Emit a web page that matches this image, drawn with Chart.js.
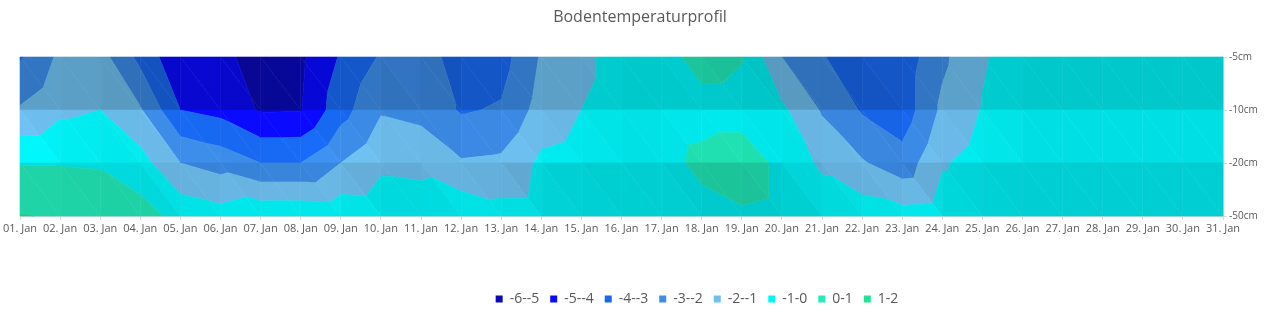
<!DOCTYPE html>
<html>
<head>
<meta charset="utf-8">
<script src="https://cdn.jsdelivr.net/npm/chart.js@4.4.0/dist/chart.umd.min.js"></script>
<style>
  html, body { margin: 0; padding: 0; background: #fff; }
  #wrap { width: 1280px; height: 316px; }
</style>
</head>
<body>
<div id="wrap"><canvas id="chart"></canvas></div>
<script>
const days = ["01. Jan", "02. Jan", "03. Jan", "04. Jan", "05. Jan", "06. Jan", "07. Jan", "08. Jan",
  "09. Jan", "10. Jan", "11. Jan", "12. Jan", "13. Jan", "14. Jan", "15. Jan", "16. Jan", "17. Jan",
  "18. Jan", "19. Jan", "20. Jan", "21. Jan", "22. Jan", "23. Jan", "24. Jan", "25. Jan", "26. Jan",
  "27. Jan", "28. Jan", "29. Jan", "30. Jan", "31. Jan"];
const depths = ["-5cm", "-10cm", "-20cm", "-50cm"];

// soil temperature per day, one array per depth
const t5 = [-3.1, -1.8, -1.6, -3.3, -4.8, -4.7, -5.5, -5.2, -3.9, -2.9, -2.4, -3.6, -3.4, -1.9, -1.3, -0.5,
  -0.3, 0.3, 0.05, -2.0, -2.9, -3.9, -3.6, -2.2, -1.1, -0.5, -0.5, -0.5, -0.5, -0.5, -0.5];
const t10 = [-1.9, -1.2, -1.0, -1.9, -4.0, -4.3, -5.1, -5.05, -3.4, -2.1, -2.3, -3.1, -2.9, -1.6, -1.0, -0.5,
  -0.4, -0.3, -0.3, -0.8, -2.1, -3.1, -3.6, -1.8, -0.95, -0.4, -0.4, -0.4, -0.4, -0.4, -0.4];
const t20 = [-0.05, -0.05, -0.1, -0.6, -2.0, -2.4, -3.0, -3.0, -2.0, -1.2, -1.3, -1.9, -1.8, -0.8, -0.6, -0.5,
  -0.3, 0.2, 0.4, -0.2, -1.2, -1.9, -2.6, -1.1, -0.6, -0.4, -0.4, -0.4, -0.4, -0.4, -0.4];
const t50 = [1.05, 0.9, 0.7, 0.4, -0.3, -0.6, -0.2, -0.2, -0.3, -0.4, -0.4, -0.2, -0.6, -0.6, -0.6, -0.6,
  -0.5, -0.3, -0.1, -0.2, -0.3, -0.4, -0.6, -0.5, -0.4, -0.5, -0.5, -0.5, -0.5, -0.5, -0.5];

const bandLabels = ["-6--5", "-5--4", "-4--3", "-3--2", "-2--1", "-1-0", "0-1", "1-2"];
const bandLow = [-6, -5, -4, -3, -2, -1, 0, 1];
const bandColors = ["#0a0ab8", "#0a0aff", "#1868f0", "#3c8ce8", "#6ec0f0", "#00f4f8", "#22ecba", "#22e294"];

const rowShade = [0.82, 0.92, 0.85];

function hexRgb(h) {
  return [parseInt(h.slice(1, 3), 16), parseInt(h.slice(3, 5), 16), parseInt(h.slice(5, 7), 16)];
}

// keep the part of a polygon where v >= lvl (above) or v <= lvl
function clip(poly, lvl, above) {
  const out = [];
  for (let k = 0; k < poly.length; k++) {
    const a = poly[k], b = poly[(k + 1) % poly.length];
    const ina = above ? a.v >= lvl : a.v <= lvl;
    const inb = above ? b.v >= lvl : b.v <= lvl;
    if (ina) out.push(a);
    if (ina !== inb) {
      const t = (lvl - a.v) / (b.v - a.v);
      out.push({x: a.x + (b.x - a.x) * t, y: a.y + (b.y - a.y) * t, v: lvl});
    }
  }
  return out;
}

function drawTri(ctx, tri, shade) {
  for (let k = 0; k < bandLow.length; k++) {
    const lo = k === 0 ? -Infinity : bandLow[k];
    const hi = k === bandLow.length - 1 ? Infinity : bandLow[k] + 1;
    let poly = clip(tri, lo, true);
    if (poly.length < 3) continue;
    poly = clip(poly, hi, false);
    if (poly.length < 3) continue;
    const c = hexRgb(bandColors[k]).map(n => Math.max(0, Math.min(255, Math.round(n * shade))));
    const col = `rgb(${c[0]},${c[1]},${c[2]})`;
    ctx.beginPath();
    ctx.moveTo(poly[0].x, poly[0].y);
    for (let m = 1; m < poly.length; m++) ctx.lineTo(poly[m].x, poly[m].y);
    ctx.closePath();
    ctx.fillStyle = col;
    ctx.strokeStyle = col;
    ctx.fill();
    ctx.stroke();
  }
}

const clamp = (v, a, b) => Math.max(a, Math.min(b, v));

// rough stand-in for Excel's lighting of the surface facets
function facetShade(j, gx, gy) {
  return rowShade[j] + (j > 0 ? 0.05 * clamp(gy, -1, 2) : 0) + 0.02 * clamp(gx, -1, 1);
}

const contourPlugin = {
  id: 'contour',
  beforeDatasetsDraw(chart) {
    const {ctx, scales: {x, y}} = chart;
    const grid = [t5, t10, t20, t50];
    const p = (i, j) => ({x: x.getPixelForValue(i), y: y.getPixelForValue(j), v: grid[j][i]});
    ctx.save();
    ctx.lineWidth = 0.6;
    ctx.lineJoin = 'round';
    for (let j = 0; j < grid.length - 1; j++) {
      for (let i = 0; i < days.length - 1; i++) {
        const tl = p(i, j), tr = p(i + 1, j), bl = p(i, j + 1), br = p(i + 1, j + 1);
        drawTri(ctx, [tl, tr, br], facetShade(j, tr.v - tl.v, br.v - tr.v));
        drawTri(ctx, [tl, br, bl], facetShade(j, br.v - bl.v, bl.v - tl.v));
      }
    }
    ctx.restore();
  },
  afterLayout(chart) {
    // Excel puts the legend a bit right of centre
    if (chart.legend) {
      chart.legend.left += 57;
      chart.legend.right += 57;
    }
  }
};

const axisGrid = {display: true, drawOnChartArea: false, drawTicks: true, tickLength: 4, color: '#d9d9d9'};

new Chart(document.getElementById('chart'), {
  type: 'scatter',
  data: {
    labels: days,
    datasets: bandLabels.map((lab, k) => ({
      label: lab,
      data: [],
      backgroundColor: bandColors[k],
      borderColor: bandColors[k],
      borderWidth: 0
    }))
  },
  options: {
    responsive: true,
    maintainAspectRatio: false,
    animation: false,
    layout: {padding: 0},
    scales: {
      x: {
        type: 'category',
        labels: days,
        offset: false,
        grid: axisGrid,
        border: {display: true, color: '#d9d9d9'},
        ticks: {autoSkip: false, maxRotation: 0, padding: 2, color: '#595959',
          font: {family: 'Open Sans', size: 11}},
        afterFit(scale) {
          scale.height = 65;
          scale.paddingLeft = 20;
          scale.paddingRight = 0;
        }
      },
      y: {
        type: 'category',
        labels: depths,
        position: 'right',
        offset: false,
        grid: axisGrid,
        border: {display: true, color: '#d9d9d9'},
        ticks: {padding: 2, color: '#595959', font: {family: 'Open Sans', size: 10}},
        afterFit(scale) {
          scale.width = 57;
        }
      }
    },
    plugins: {
      title: {
        display: true,
        text: 'Bodentemperaturprofil',
        color: '#595959',
        font: {family: 'Open Sans', size: 16, weight: 'normal'},
        padding: {top: 7.4, bottom: 30.4}
      },
      legend: {
        position: 'bottom',
        labels: {
          boxWidth: 7,
          boxHeight: 7,
          padding: 11,
          color: '#595959',
          font: {family: 'Open Sans', size: 14}
        }
      },
      tooltip: {enabled: false}
    }
  },
  plugins: [contourPlugin]
});
</script>
</body>
</html>
